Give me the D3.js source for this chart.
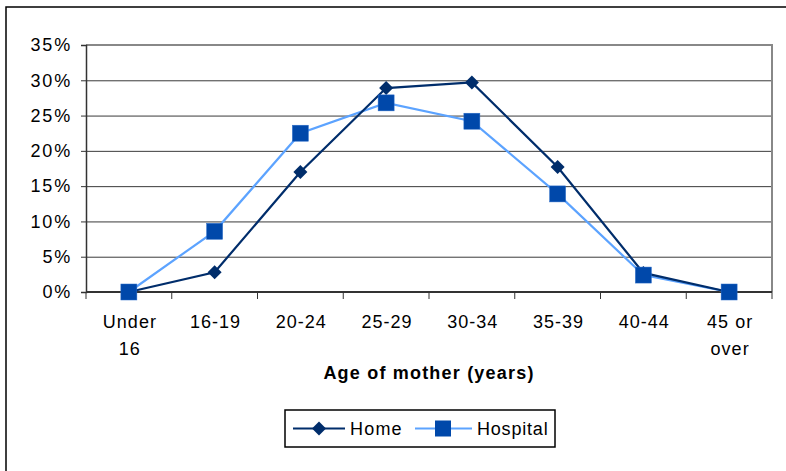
<!DOCTYPE html>
<html>
  <head>
    <title>Age of mother</title>
    <meta charset="utf-8">
    <style type="text/css">
      body {
        margin: 0;
        font-family: "Liberation Sans", Arial, sans-serif;
        background: #fff;
      }
      .axis text {
        font-size: 18px;
        fill: #000;
      }
      .y-lbl text {
        font-size: 18px;
        letter-spacing: 1.8px;
      }
      .lbl {
        letter-spacing: 1px;
      }
      .grid line {
        stroke: #3a3a3a;
        stroke-width: 1px;
      }
      .grid path {
        display: none;
      }
    </style>
  </head>
  <body>
    <script src="https://d3js.org/d3.v7.min.js"></script>
    <script>
    var categories = ["Under 16", "16-19", "20-24", "25-29", "30-34", "35-39", "40-44", "45 or over"];
    var homeValues = [0, 2.8, 17.0, 28.9, 29.7, 17.7, 2.7, 0];
    var hospitalValues = [0, 8.6, 22.5, 26.8, 24.2, 13.9, 2.4, 0];
    var yTicks = [0, 5, 10, 15, 20, 25, 30, 35];

    var W = 786, H = 471;
    var margin = {top: 45, right: 14, bottom: 179, left: 86};
    var width = W - margin.left - margin.right,
        height = H - margin.top - margin.bottom;

    var svg = d3.select("body").append("svg")
        .attr("width", W)
        .attr("height", H);

    // outer frame (top + left edges visible)
    svg.append("path")
        .attr("d", "M6,471 L6,7 L786,7")
        .attr("fill", "none")
        .attr("stroke", "#000")
        .attr("stroke-width", 1.5);

    var g = svg.append("g")
        .attr("transform", "translate(" + margin.left + "," + margin.top + ")");

    var x = d3.scaleBand()
        .domain(categories)
        .range([0, width]);

    var y = d3.scaleLinear()
        .domain([0, 35])
        .range([height, 0]);

    // gridlines
    g.append("g")
        .attr("class", "grid")
        .call(d3.axisLeft(y).tickValues(yTicks).tickSize(-width).tickFormat(""));

    // plot border top/right
    g.append("path")
        .attr("d", "M0,0 L" + width + ",0 L" + width + "," + height)
        .attr("fill", "none")
        .attr("stroke", "#888")
        .attr("stroke-width", 2);

    // y axis
    var yAxis = g.append("g")
        .attr("class", "axis y-lbl")
        .call(d3.axisLeft(y).tickValues(yTicks).tickSize(5).tickPadding(9)
          .tickFormat(function(d) { return d + "%"; }));
    yAxis.select(".domain").attr("stroke", "#333").attr("stroke-width", 1.5);
    yAxis.selectAll(".tick line").attr("stroke", "#333");

    // x axis
    var boundaries = d3.range(categories.length + 1).map(function(i) { return i * x.step(); });
    var xAxisG = g.append("g")
        .attr("class", "axis")
        .attr("transform", "translate(0," + height + ")");
    xAxisG.append("line")
        .attr("x1", 0).attr("x2", width)
        .attr("stroke", "#333").attr("stroke-width", 2);
    xAxisG.selectAll("line.tk")
        .data(boundaries)
        .enter().append("line")
        .attr("class", "tk")
        .attr("x1", function(d) { return d; })
        .attr("x2", function(d) { return d; })
        .attr("y1", 0).attr("y2", 7)
        .attr("stroke", "#333");

    var labelText = xAxisG.selectAll("text.lbl")
        .data(categories)
        .enter().append("text")
        .attr("class", "lbl")
        .attr("text-anchor", "middle")
        .attr("x", function(d) { return x(d) + x.bandwidth() / 2; })
        .attr("y", 36);
    labelText.each(function(d) {
      var parts = d === "Under 16" ? ["Under", "16"] : d === "45 or over" ? ["45 or", "over"] : [d];
      var t = d3.select(this);
      parts.forEach(function(p, i) {
        t.append("tspan")
          .attr("x", x(d) + x.bandwidth() / 2 + 1)
          .attr("dy", i === 0 ? 0 : 27)
          .text(p);
      });
    });

    // axis title
    svg.append("text")
        .attr("x", margin.left + width / 2)
        .attr("y", 379)
        .attr("text-anchor", "middle")
        .style("font-size", "18px")
        .style("font-weight", "bold")
        .style("letter-spacing", "1.2px")
        .text("Age of mother (years)");

    var homeColor = "#002D6B",
        hospLine = "#5CA3FF",
        hospMarker = "#0048AA";

    var line = d3.line()
        .x(function(d, i) { return x(categories[i]) + x.bandwidth() / 2; })
        .y(function(d) { return y(d); });

    var diamond = d3.symbol().type(d3.symbolDiamond2).size(125);

    // lines first, then markers (home, then hospital on top)
    g.append("path")
        .datum(hospitalValues)
        .attr("fill", "none")
        .attr("stroke", hospLine)
        .attr("stroke-width", 2.2)
        .attr("d", line);

    g.append("path")
        .datum(homeValues)
        .attr("fill", "none")
        .attr("stroke", homeColor)
        .attr("stroke-width", 2.2)
        .attr("d", line);

    g.selectAll("path.home")
        .data(homeValues)
        .enter().append("path")
        .attr("class", "home")
        .attr("d", diamond)
        .attr("transform", function(d, i) {
          return "translate(" + (x(categories[i]) + x.bandwidth() / 2) + "," + y(d) + ")";
        })
        .attr("fill", homeColor);

    g.selectAll("rect.hosp")
        .data(hospitalValues)
        .enter().append("rect")
        .attr("class", "hosp")
        .attr("x", function(d, i) { return x(categories[i]) + x.bandwidth() / 2 - 8; })
        .attr("y", function(d) { return y(d) - 8; })
        .attr("width", 16).attr("height", 16)
        .attr("fill", hospMarker)
        .attr("stroke", "#2a6cc9").attr("stroke-width", 0.5);

    // legend
    var leg = svg.append("g").attr("transform", "translate(285,410)");
    leg.append("rect")
        .attr("width", 270).attr("height", 37)
        .attr("fill", "#fff")
        .attr("stroke", "#000").attr("stroke-width", 1.5);
    leg.append("line")
        .attr("x1", 8).attr("x2", 60).attr("y1", 18.5).attr("y2", 18.5)
        .attr("stroke", homeColor).attr("stroke-width", 2.2);
    leg.append("path")
        .attr("d", diamond)
        .attr("transform", "translate(34,18.5)")
        .attr("fill", homeColor);
    leg.append("text")
        .attr("x", 65).attr("y", 24.5)
        .style("font-size", "18px")
        .style("letter-spacing", "1.2px")
        .text("Home");
    leg.append("line")
        .attr("x1", 130).attr("x2", 187).attr("y1", 18.5).attr("y2", 18.5)
        .attr("stroke", hospLine).attr("stroke-width", 2.2);
    leg.append("rect")
        .attr("x", 150).attr("y", 10.5)
        .attr("width", 16).attr("height", 16)
        .attr("fill", hospMarker);
    leg.append("text")
        .attr("x", 192).attr("y", 24.5)
        .style("font-size", "18px")
        .style("letter-spacing", "0.8px")
        .text("Hospital");
    </script>
  </body>
</html>
